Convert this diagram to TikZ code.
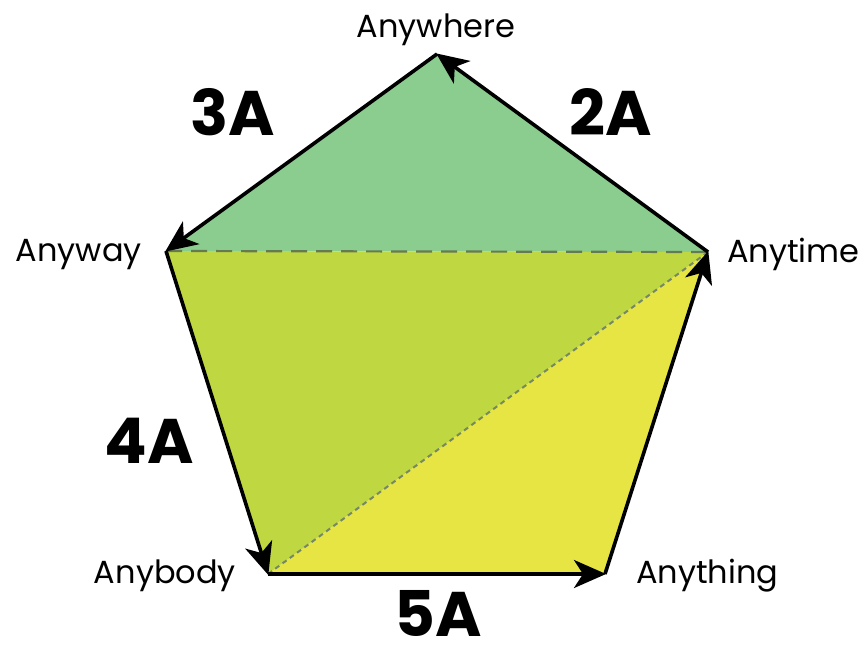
\documentclass[tikz,border=0pt]{standalone}
\usepackage{fontspec}
\setmainfont{Poppins}
\usetikzlibrary{arrows.meta}
\definecolor{cgreen}{HTML}{8BCC8F}
\definecolor{cyg}{HTML}{BFD741}
\definecolor{cyel}{HTML}{E6E543}
\definecolor{cdash}{HTML}{667A52}
\begin{document}
\begin{tikzpicture}[x=1pt,y=-1pt,
  edge/.style={line width=3.6pt,-{Stealth[length=32pt,width=28pt,inset=9pt]},shorten >=-1pt,line join=round},
  vlabel/.style={font=\fontsize{32}{32}\selectfont,inner sep=0pt},
  biglabel/.style={font=\fontsize{63}{63}\selectfont\bfseries,inner sep=0pt,anchor=base}]
\useasboundingbox (0,0) rectangle (867,648);
\coordinate (top) at (437,54);
\coordinate (rt) at (708,252);
\coordinate (lt) at (166,251);
\coordinate (bl) at (268,574);
\coordinate (br) at (605,574);
\fill[cgreen] (top) -- (rt) -- (lt) -- cycle;
\fill[cyg] (lt) -- (rt) -- (bl) -- cycle;
\fill[cyel] (rt) -- (br) -- (bl) -- cycle;
\draw[cdash,line width=2.2pt,dash pattern=on 16pt off 9pt] (lt) -- (rt);
\draw[cdash!90,line width=2pt,dash pattern=on 5pt off 4pt] (bl) -- (rt);
\draw[edge] (rt) -- (top);
\draw[edge] (top) -- (lt);
\draw[edge] (lt) -- (bl);
\draw[edge] (bl) -- (br);
\draw[edge] (br) -- (rt);
\node[vlabel,anchor=base] (nwhere) at (436,37) {Anywhere};
\node[vlabel,anchor=base west] (ntime) at (727,262) {Anytime};
\node[vlabel,anchor=base east] (nway) at (142,261) {Anyway};
\node[vlabel,anchor=base east] (nbody) at (236,583) {Anybody};
\node[vlabel,anchor=base west] (nthing) at (636,583) {Anything};
\node[biglabel] (l3) at (233,135) {3A};
\node[biglabel] (l2) at (611,135) {2A};
\node[biglabel] (l4) at (149,463) {4A};
\node[biglabel] (l5) at (438,636) {5A};
\end{tikzpicture}
\end{document}
